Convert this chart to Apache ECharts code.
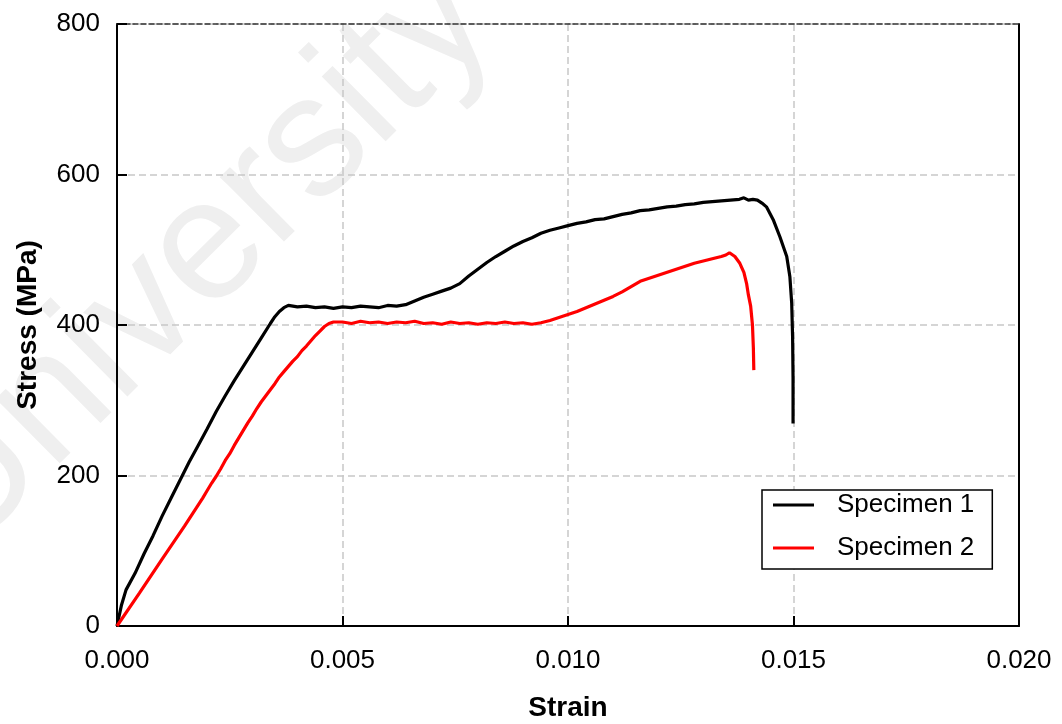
<!DOCTYPE html>
<html>
<head>
<meta charset="utf-8">
<title>Stress-strain curves</title>
<script src="https://cdn.jsdelivr.net/npm/echarts@6/dist/echarts.min.js"></script>
<style>
  html, body { margin: 0; padding: 0; background: #fff; }
  #chart { width: 1062px; height: 724px; }
</style>
</head>
<body>
<div id="chart"></div>
<script>
// Specimen 1 — strain (mm/mm) and stress (MPa)
const strain1 = [
  0, 0.0001, 0.0002, 0.0004, 0.0006, 0.0008, 0.0010, 0.0012, 0.0014, 0.0016,
  0.0018, 0.0020, 0.0022, 0.0024, 0.0026, 0.0028, 0.0030, 0.0032, 0.0034, 0.0035,
  0.0036, 0.0037, 0.0038, 0.0040, 0.0042, 0.0044, 0.0046, 0.0048, 0.0050, 0.0052,
  0.0054, 0.0056, 0.0058, 0.0060, 0.0062, 0.0064, 0.0066, 0.0068, 0.0070, 0.0072,
  0.0074, 0.0076, 0.0078, 0.0080, 0.0082, 0.0084, 0.0086, 0.0088, 0.0090, 0.0092,
  0.0094, 0.0096, 0.0098, 0.0100, 0.0102, 0.0104, 0.0106, 0.0108, 0.0110, 0.0112,
  0.0114, 0.0116, 0.0118, 0.0120, 0.0122, 0.0124, 0.0126, 0.0128, 0.0130, 0.0132,
  0.0134, 0.0136, 0.0138, 0.0139, 0.0140, 0.0141, 0.0142, 0.0143, 0.0144, 0.01455,
  0.0147, 0.01485, 0.01492, 0.01496, 0.01498, 0.01499, 0.01499
];
const stress1 = [
  0, 28, 48, 70, 96, 120, 146, 170, 194, 218,
  240, 262, 285, 306, 326, 345, 364, 383, 402, 411,
  418, 423, 426, 424, 425, 423, 424, 422, 424, 423,
  425, 424, 423, 426, 425, 427, 432, 437, 441, 445,
  449, 455, 465, 474, 483, 491, 498, 505, 511, 516,
  522, 526, 529, 532, 535, 537, 540, 541, 544, 547,
  549, 552, 553, 555, 557, 558, 560, 561, 563, 564,
  565, 566, 567, 569, 566, 567, 566, 562, 557, 540,
  517, 491, 464, 429, 384, 330, 269
];

// Specimen 2 — strain (mm/mm) and stress (MPa)
const strain2 = [
  0, 0.0005, 0.0010, 0.0015, 0.0019, 0.0020, 0.0021, 0.0022, 0.0023, 0.0024,
  0.0025, 0.0026, 0.0027, 0.0028, 0.0029, 0.0030, 0.0031, 0.0032, 0.0033, 0.0034,
  0.0035, 0.0036, 0.0037, 0.0038, 0.0039, 0.0040, 0.0041, 0.0042, 0.0043, 0.0044,
  0.0045, 0.0046, 0.0047, 0.0048, 0.0050, 0.0052, 0.0054, 0.0056, 0.0058, 0.0060,
  0.0062, 0.0064, 0.0066, 0.0068, 0.0070, 0.0072, 0.0074, 0.0076, 0.0078, 0.0080,
  0.0082, 0.0084, 0.0086, 0.0088, 0.0090, 0.0092, 0.0094, 0.0096, 0.0098, 0.0100,
  0.0102, 0.0104, 0.0106, 0.0108, 0.0110, 0.0112, 0.0114, 0.0116, 0.0118, 0.0120,
  0.0122, 0.0124, 0.0126, 0.0128, 0.0130, 0.0132, 0.0134, 0.0135, 0.01358, 0.0137,
  0.01381, 0.0139, 0.01396, 0.0140, 0.01405, 0.01409, 0.01411, 0.01412
];
const stress2 = [
  0, 44, 89, 133, 170, 180, 190, 199, 209, 220,
  229, 240, 250, 260, 270, 279, 289, 298, 306, 314,
  322, 331, 338, 345, 352, 358, 366, 372, 379, 386,
  392, 398, 402, 404, 404, 402, 405, 403, 404, 402,
  404, 403, 405, 402, 403, 401, 404, 402, 403, 401,
  403, 402, 404, 402, 403, 401, 403, 406, 410, 414,
  418, 423, 428, 433, 438, 444, 451, 458, 462, 466,
  470, 474, 478, 482, 485, 488, 491, 493, 496, 491,
  482, 470, 455, 440, 425, 400, 370, 340
];

const seriesNames = ['Specimen 1', 'Specimen 2'];
const xTickMax = 0.020;
const yTickMax = 800;

const pairs = (xs, ys) => xs.map((x, i) => [x, ys[i]]);

const FONT = '"Liberation Sans", Arial, sans-serif';
const gridDash = [7, 4];

const chart = echarts.init(document.getElementById('chart'), null, { renderer: 'canvas' });

chart.setOption({
  backgroundColor: '#ffffff',
  animation: false,
  textStyle: { fontFamily: FONT, color: '#000' },
  graphic: [{
    type: 'text',
    x: 198,
    y: 260,
    rotation: 0.78,
    z: -10,
    silent: true,
    style: {
      text: 'University',
      font: '172px "Liberation Sans", Arial, sans-serif',
      fill: '#efefef',
      align: 'center',
      verticalAlign: 'middle'
    }
  }],
  grid: {
    left: 117, right: 43, top: 24, bottom: 98,
    outerBoundsMode: 'none'
  },
  legend: {
    data: seriesNames,
    orient: 'vertical',
    left: 762,
    top: 490,
    icon: 'rect',
    itemWidth: 41,
    itemHeight: 3,
    itemGap: 15,
    padding: [1, 18, 7, 11],
    borderColor: '#000',
    borderWidth: 1.5,
    backgroundColor: '#fff',
    textStyle: {
      fontFamily: FONT, fontSize: 26, color: '#000',
      lineHeight: 28, padding: [0, 0, 0, 18]
    }
  },
  xAxis: [{
    type: 'value',
    min: 0, max: xTickMax, interval: 0.005,
    name: 'Strain',
    nameLocation: 'middle',
    nameGap: 68,
    nameTextStyle: { fontFamily: FONT, fontSize: 28, fontWeight: 'bold', color: '#000' },
    axisLine: { show: true, onZero: false, lineStyle: { color: '#000', width: 2 } },
    axisTick: { show: true, inside: true, length: 10, lineStyle: { color: '#000', width: 2 } },
    axisLabel: {
      fontFamily: FONT, fontSize: 26, color: '#000', margin: 22,
      formatter: v => v.toFixed(3)
    },
    splitLine: { show: true, lineStyle: { color: '#c8c8c8', width: 1.5, type: gridDash } }
  }, {
    type: 'value',
    position: 'top',
    min: 0, max: xTickMax, interval: 0.005,
    axisLine: { show: true, onZero: false, lineStyle: { color: '#333', width: 1.5, type: [5, 3] } },
    axisTick: { show: false },
    axisLabel: { show: false },
    splitLine: { show: false }
  }],
  yAxis: [{
    type: 'value',
    min: 0, max: yTickMax, interval: 200,
    name: 'Stress (MPa)',
    nameLocation: 'middle',
    nameGap: 75,
    nameRotate: 90,
    nameTextStyle: { fontFamily: FONT, fontSize: 28, fontWeight: 'bold', color: '#000' },
    axisLine: { show: true, onZero: false, lineStyle: { color: '#000', width: 2 } },
    axisTick: { show: true, inside: true, length: 10, lineStyle: { color: '#000', width: 2 } },
    axisLabel: { fontFamily: FONT, fontSize: 26, color: '#000', margin: 17 },
    splitLine: { show: true, lineStyle: { color: '#c8c8c8', width: 1.5, type: gridDash } }
  }, {
    type: 'value',
    position: 'right',
    min: 0, max: yTickMax, interval: 200,
    axisLine: { show: true, onZero: false, lineStyle: { color: '#000', width: 2 } },
    axisTick: { show: false },
    axisLabel: { show: false },
    splitLine: { show: false }
  }],
  series: [{
    name: seriesNames[0],
    type: 'line',
    xAxisIndex: 0, yAxisIndex: 0,
    data: pairs(strain1, stress1),
    symbol: 'none',
    smooth: false,
    lineStyle: { color: '#000000', width: 3.2 },
    itemStyle: { color: '#000000' },
    z: 3
  }, {
    name: seriesNames[1],
    type: 'line',
    xAxisIndex: 0, yAxisIndex: 0,
    data: pairs(strain2, stress2),
    symbol: 'none',
    smooth: false,
    lineStyle: { color: '#ff0000', width: 3.2 },
    itemStyle: { color: '#ff0000' },
    z: 4
  }]
});
</script>
</body>
</html>
